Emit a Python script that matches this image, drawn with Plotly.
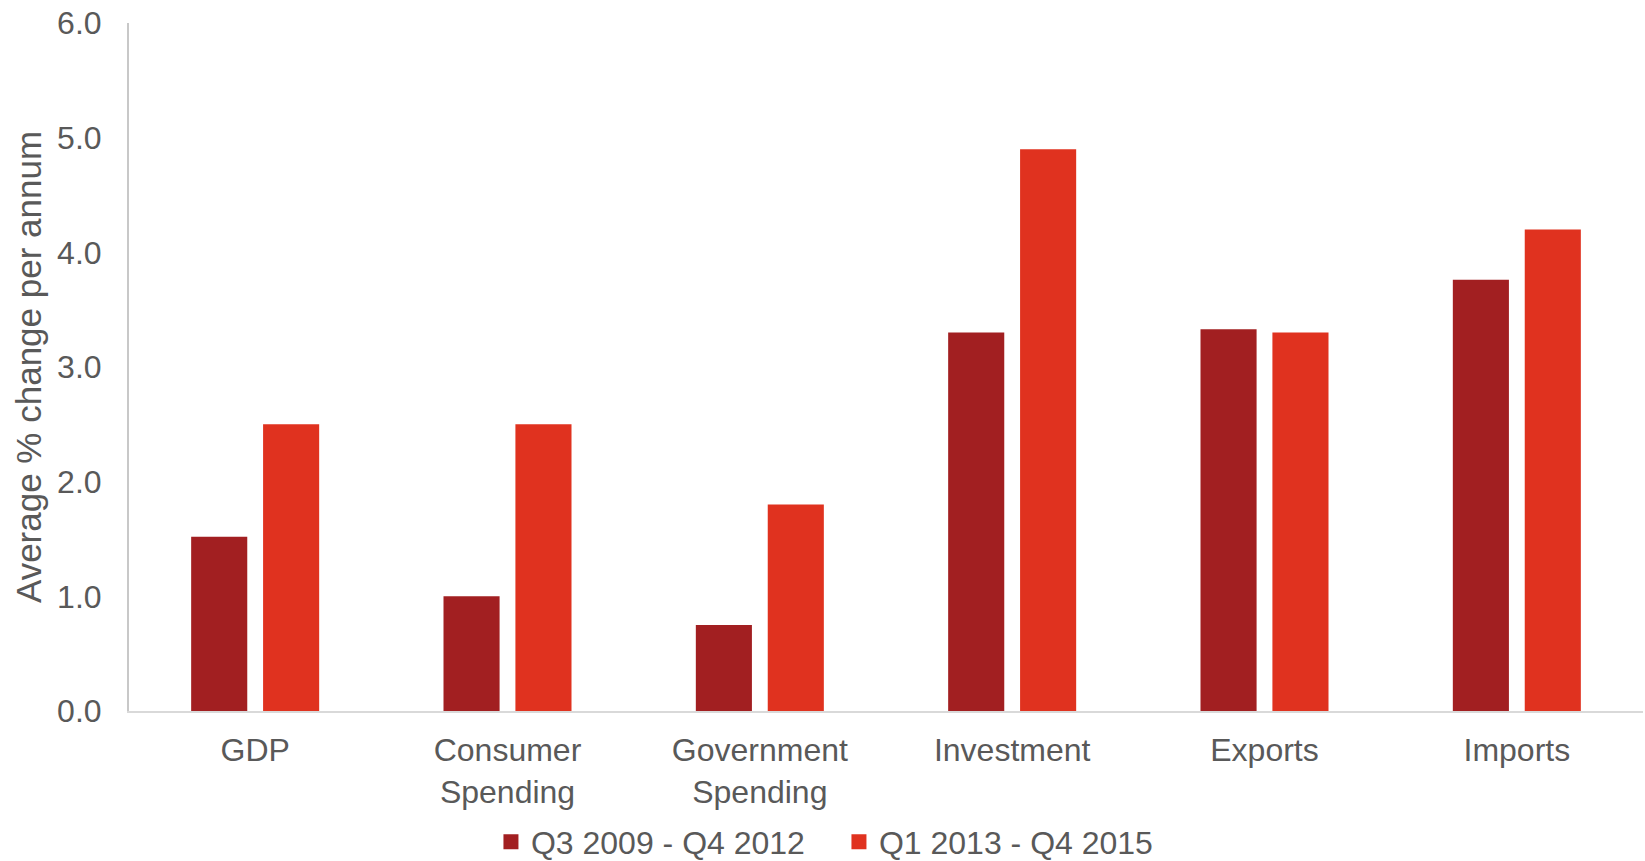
import plotly.graph_objects as go

categories = ["GDP", "Consumer<br>Spending", "Government<br>Spending", "Investment", "Exports", "Imports"]
series_names = ["Q3 2009 - Q4 2012", "Q1 2013 - Q4 2015"]
period_2009_2012 = [1.52, 1.0, 0.75, 3.3, 3.33, 3.76]
period_2013_2015 = [2.5, 2.5, 1.8, 4.9, 3.3, 4.2]
y_ticks = [0.0, 1.0, 2.0, 3.0, 4.0, 5.0, 6.0]

colors = ["#A21F21", "#E0321F"]
font_family = "Liberation Sans, Arial, sans-serif"
text_color = "#595959"

fig = go.Figure()
for name, vals, col in zip(series_names, [period_2009_2012, period_2013_2015], colors):
    fig.add_trace(go.Bar(
        x=categories, y=vals, name=name, showlegend=False,
        marker=dict(color=col, line=dict(width=0)),
    ))
    # square legend key, a touch larger than the default bar swatch
    fig.add_trace(go.Scatter(
        x=[None], y=[None], mode="markers", name=name,
        marker=dict(symbol="square", size=15, color=col),
    ))

fig.update_layout(
    width=1645, height=861,
    margin=dict(l=129, r=2, t=23, b=150, autoexpand=False),
    plot_bgcolor="white", paper_bgcolor="white",
    barmode="group", bargap=0.43, bargroupgap=0.22,
    font=dict(family=font_family, color=text_color, size=32),
    showlegend=True,
    legend=dict(
        orientation="h", xref="container", yref="container",
        x=0.51, xanchor="center", y=0.022, yanchor="middle",
        font=dict(size=32, color=text_color), itemsizing="trace",
        traceorder="normal", itemwidth=30,
        entrywidth=303, entrywidthmode="pixels",
    ),
    xaxis=dict(
        showline=True, linecolor="#D9D9D9", linewidth=2, automargin=False,
        ticks="", showgrid=False, tickfont=dict(size=32, color=text_color),
        ticklabelstandoff=10,
    ),
    yaxis=dict(
        range=[0, 6], tickvals=y_ticks, tickformat=".1f", automargin=False,
        showline=True, linecolor="#C8C8C8", linewidth=2,
        showgrid=False, zeroline=False, ticks="",
        tickfont=dict(size=32, color=text_color),
        ticklabelstandoff=19,
        title=dict(text="Average % change per annum", font=dict(size=35, color=text_color), standoff=5),
    ),
)

fig.write_html("out.html")
